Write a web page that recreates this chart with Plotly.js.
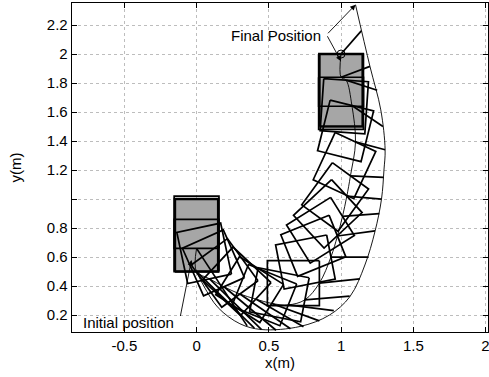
<!DOCTYPE html>
<html>
<head>
<meta charset="utf-8">
<script src="https://cdn.plot.ly/plotly-3.0.1.min.js"></script>
<style>html,body{margin:0;padding:0;background:#fff;}#plot{width:489px;height:377px;}</style>
</head>
<body>
<div id="plot"></div>
<script>
// ---- data ----
// robot reference point (front centre) and heading (deg) for each drawn pose
const poseX = [0.0, 0.0, 0.09, 0.19, 0.30, 0.41, 0.52, 0.635, 0.75, 0.85, 0.93, 0.975, 1.01, 1.04, 1.065, 1.10, 1.075, 1.035, 1.0, 1.0];
const poseY = [0.66, 0.5, 0.45, 0.395, 0.345, 0.31, 0.28, 0.27, 0.305, 0.42, 0.60, 0.745, 0.88, 1.02, 1.16, 1.394, 1.645, 1.82, 1.84, 2.0];
const poseHeading = [-90, -90, -78, -66, -54, -43, -32, -22, -11, 0, 11, 22, 32, 43, 54, 65, 76, 86, 90, 90];
// look-ahead points on the reference path, one per pose
const lookX = [0.35, 0.40, 0.45, 0.55, 0.65, 0.74, 0.85, 0.95, 1.06, 1.13, 1.19, 1.235, 1.265, 1.28, 1.295, 1.305, 1.29, 1.25, 1.20, 1.14];
const lookY = [0.125, 0.11, 0.10, 0.095, 0.105, 0.12, 0.16, 0.23, 0.33, 0.45, 0.60, 0.78, 0.90, 1.0, 1.15, 1.34, 1.50, 1.75, 1.915, 2.16];
// reference path
const pathX = [0.0, 0.05, 0.15, 0.30, 0.45, 0.716, 0.92, 1.062, 1.165, 1.235, 1.28, 1.297, 1.305, 1.275, 1.20, 1.10];
const pathY = [0.5, 0.40, 0.25, 0.14, 0.10, 0.121, 0.20, 0.328, 0.545, 0.777, 1.0, 1.20, 1.34, 1.615, 1.915, 2.34];
// shaded start / final footprints
const boxX0 = [-0.15, 0.85];
const boxX1 = [0.15, 1.15];
const boxY0 = [0.5, 1.5];
const boxY1 = [1.0, 2.0];
// axis ticks
const xTickVals = [-0.5, 0, 0.5, 1, 1.5, 2];
const xTickText = ['-0.5', '0', '0.5', '1', '1.5', '2'];
const yTickVals = [0.2, 0.4, 0.6, 0.8, 1.0, 1.2, 1.4, 1.6, 1.8, 2.0, 2.2];
const yTickText = ['0.2', '0.4', '0.6', '0.8', '', '1.2', '1.4', '1.6', '1.8', '2', '2.2'];

// ---- robot footprint geometry ----
const ROBOT_W = 0.31, ROBOT_L = 0.36;
function footprint(x, y, hDeg) {
  const h = hDeg * Math.PI / 180;
  const fx = Math.cos(h), fy = Math.sin(h);
  const nx = -fy, ny = fx;
  const a = [x + nx * ROBOT_W / 2, y + ny * ROBOT_W / 2];
  const b = [x - nx * ROBOT_W / 2, y - ny * ROBOT_W / 2];
  const c = [b[0] - fx * ROBOT_L, b[1] - fy * ROBOT_L];
  const d = [a[0] - fx * ROBOT_L, a[1] - fy * ROBOT_L];
  return [a, b, c, d, a];
}

const traces = [];
// grey footprints
for (let i = 0; i < boxX0.length; i++) {
  traces.push({
    type: 'scatter', mode: 'lines', hoverinfo: 'skip', showlegend: false,
    x: [boxX0[i], boxX1[i], boxX1[i], boxX0[i], boxX0[i]],
    y: [boxY0[i], boxY0[i], boxY1[i], boxY1[i], boxY0[i]],
    fill: 'toself', fillcolor: '#a6a6a6',
    line: {color: '#000', width: 2.6}
  });
}
// footprint outlines
const rx = [], ry = [];
for (let i = 0; i < poseX.length; i++) {
  footprint(poseX[i], poseY[i], poseHeading[i]).forEach(p => { rx.push(p[0]); ry.push(p[1]); });
  rx.push(null); ry.push(null);
}
traces.push({type: 'scatter', mode: 'lines', x: rx, y: ry, hoverinfo: 'skip', showlegend: false,
  line: {color: '#000', width: 1.7}});
// look-ahead lines
const lx = [], ly = [];
for (let i = 0; i < poseX.length; i++) {
  lx.push(poseX[i], lookX[i], null);
  ly.push(poseY[i], lookY[i], null);
}
traces.push({type: 'scatter', mode: 'lines', x: lx, y: ly, hoverinfo: 'skip', showlegend: false,
  line: {color: '#000', width: 1.7}});
// reference path and robot trajectory (thin)
traces.push({type: 'scatter', mode: 'lines', x: pathX, y: pathY, hoverinfo: 'skip', showlegend: false,
  line: {color: '#000', width: 0.9, shape: 'spline'}});
traces.push({type: 'scatter', mode: 'lines', x: poseX, y: poseY, hoverinfo: 'skip', showlegend: false,
  line: {color: '#000', width: 0.9, shape: 'spline'}});
// final position marker
const last = poseX.length - 1;
traces.push({type: 'scatter', mode: 'markers', x: [poseX[last]], y: [poseY[last]], hoverinfo: 'skip', showlegend: false,
  marker: {symbol: 'circle-open', size: 8, color: '#000', line: {width: 1}}});

const axisCommon = {
  showline: true, linecolor: '#000', linewidth: 1.3, mirror: 'ticks',
  ticks: 'inside', ticklen: 5, tickwidth: 1, tickcolor: '#000',
  showgrid: true, gridcolor: '#bdbdbd', gridwidth: 1, griddash: 'dot',
  zeroline: false, tickmode: 'array', fixedrange: true, ticklabeloverflow: 'allow',
  tickfont: {size: 15, color: '#000'}
};

const layout = {
  width: 489, height: 377,
  margin: {l: 72, r: 1, t: 3, b: 45, pad: 0},
  paper_bgcolor: '#fff', plot_bgcolor: '#fff',
  font: {family: 'Liberation Sans, Arial, sans-serif', size: 15, color: '#000'},
  showlegend: false,
  xaxis: Object.assign({}, axisCommon, {
    range: [-0.862, 2.017], tickvals: xTickVals, ticktext: xTickText,
    title: {text: 'x(m)', font: {size: 15}, standoff: 1}
  }),
  yaxis: Object.assign({}, axisCommon, {
    range: [0.083, 2.352], tickvals: yTickVals, ticktext: yTickText,
    title: {text: 'y(m)', font: {size: 15}, standoff: 21}
  }),
  annotations: [
    {x: 0.547, y: 2.126, xref: 'x', yref: 'y', text: 'Final Position', showarrow: false,
     xanchor: 'center', yanchor: 'middle', font: {size: 15}},
    {x: pathX[pathX.length - 1], y: pathY[pathY.length - 1], ax: 0.90, ay: 2.133, axref: 'x', ayref: 'y',
     xref: 'x', yref: 'y', text: '', showarrow: true, arrowhead: 2, arrowsize: 1.2, arrowwidth: 0.9, arrowcolor: '#000'},
    {x: poseX[last], y: poseY[last] - 0.05, ax: 0.90, ay: 2.133, axref: 'x', ayref: 'y',
     xref: 'x', yref: 'y', text: '', showarrow: true, arrowhead: 2, arrowsize: 1.2, arrowwidth: 0.9, arrowcolor: '#000'},
    {x: -0.474, y: 0.149, xref: 'x', yref: 'y', text: 'Initial position', showarrow: false,
     xanchor: 'center', yanchor: 'middle', font: {size: 15}},
    {x: -0.035, y: 0.58, ax: -0.114, ay: 0.183, axref: 'x', ayref: 'y',
     xref: 'x', yref: 'y', text: '', showarrow: true, arrowhead: 2, arrowsize: 1.2, arrowwidth: 0.9, arrowcolor: '#000'}
  ]
};

Plotly.newPlot('plot', traces, layout, {displayModeBar: false, staticPlot: true});
</script>
</body>
</html>
